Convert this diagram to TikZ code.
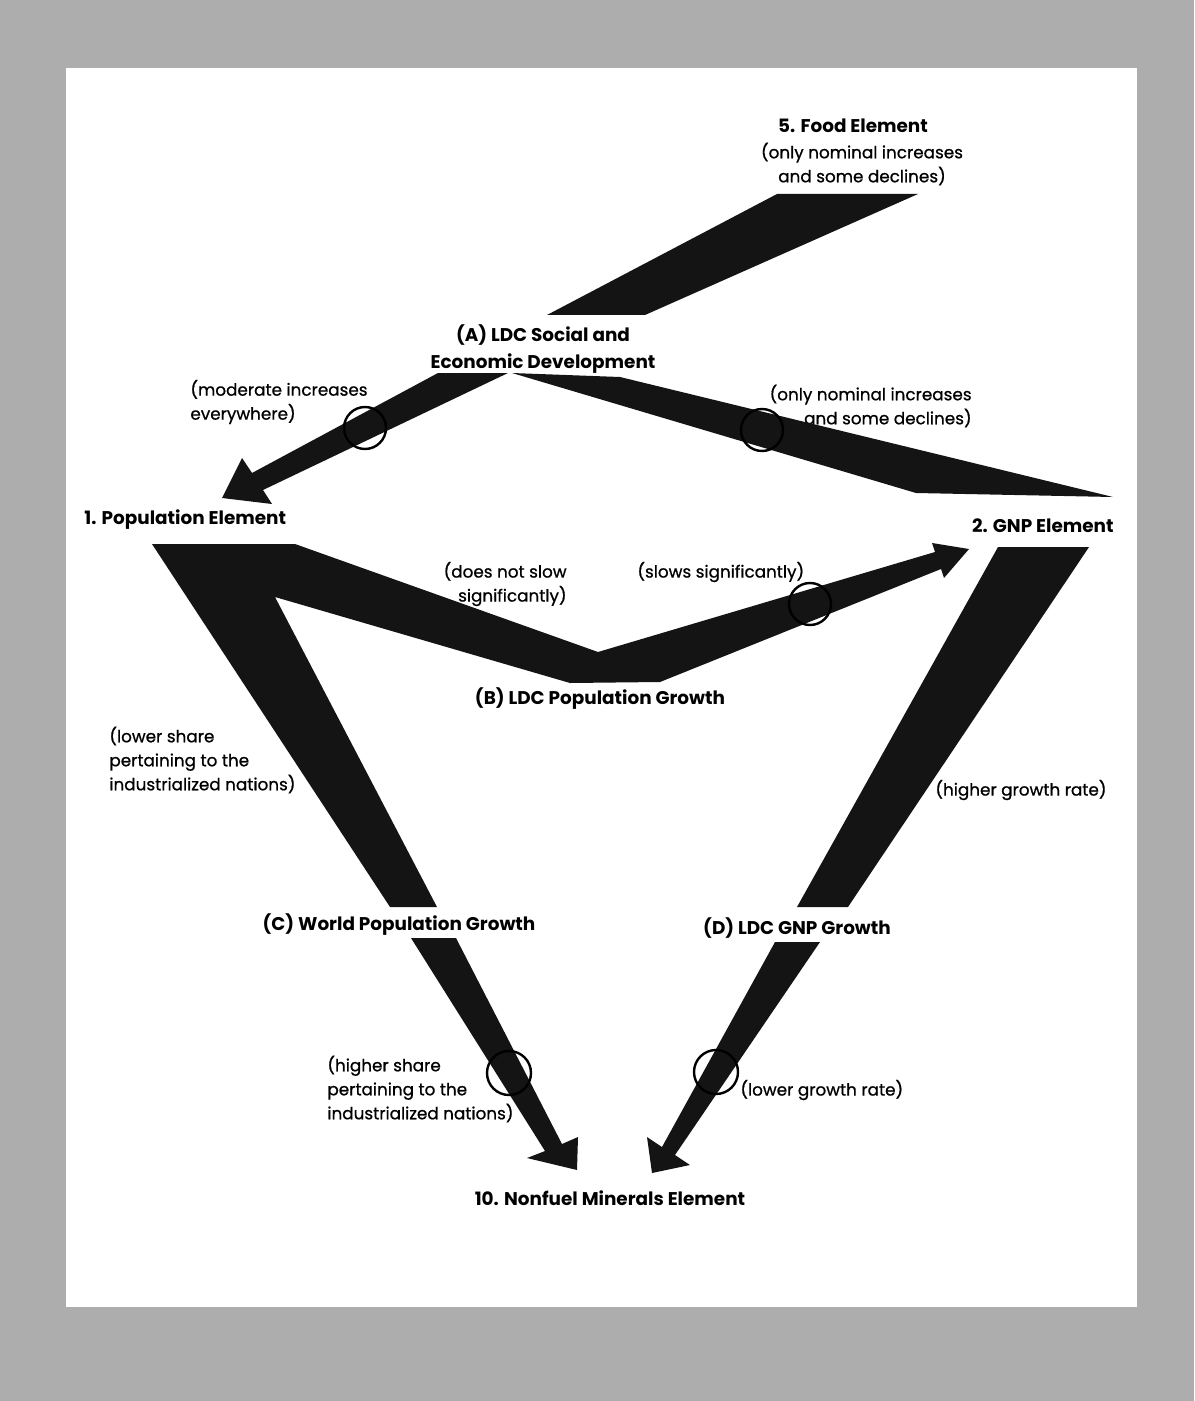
\documentclass[tikz,border=0pt]{standalone}
\usepackage{fontspec}
\setmainfont{Poppins}
\newfontfamily\notefont[FakeBold=0.8]{Poppins}
\begin{document}
\begin{tikzpicture}[x=0.5pt,y=-0.5pt,
  band/.style={fill=black!92,draw=none},
  ring/.style={draw=black,line width=1.2pt,fill=none},
  ttl/.style={font=\bfseries\fontsize{9.2}{13.5}\selectfont,inner sep=0pt,align=center},
  note/.style={font=\notefont\fontsize{8.4}{12}\selectfont,inner sep=0pt,align=left}]
% page and margins
\fill[black!32] (0,0) rectangle (1194,1401);
\fill[white] (66,68) rectangle (1137,1307);
\useasboundingbox (0,0) rectangle (1194,1401);

% labels
\node[ttl] (food) at (853,126) {5. Food Element};
\node[note,align=center] (foodn) at (862,164) {(only nominal increases\\ and some declines)};
\node[ttl] (A) at (543,349) {(A) LDC Social and\\Economic Development};
\node[note,anchor=west] (modn) at (190,402) {(moderate increases\\everywhere)};
\node[note,align=right,anchor=east] (gnpn) at (972,406) {(only nominal increases\\and some declines)};
\node[ttl,anchor=west] (pop) at (84,520) {1. Population Element};
\node[ttl,anchor=east] (gnp) at (1114,526) {2. GNP Element};
\node[note,align=right,anchor=east] (dns) at (567,584) {(does not slow\\significantly)};
\node[note,anchor=west] (slow) at (637,572) {(slows significantly)};
\node[ttl] (B) at (600,699) {(B) LDC Population Growth};
\node[note,anchor=west] (lower) at (109,760) {(lower share\\pertaining to the\\industrialized nations)};
\node[note,anchor=west] (hgr) at (935,790) {(higher growth rate)};
\node[ttl] (C) at (399,925) {(C) World Population Growth};
\node[ttl] (D) at (797,928) {(D) LDC GNP Growth};
\node[note,anchor=west] (higher) at (327,1089) {(higher share\\pertaining to the\\industrialized nations)};
\node[note,anchor=west] (lgr) at (740,1090) {(lower growth rate)};
\node[ttl] (min) at (610,1198) {10. Nonfuel Minerals Element};

% bands
\fill[band] (777,194) -- (918,194) -- (645,315) -- (547,315) -- cycle;
\fill[band] (438,373) -- (508,373) -- (263,490) -- (272,504) -- (222,498) -- (242,458) -- (252,473) -- cycle;
\fill[band] (512,373) -- (620,377) -- (1113,497) -- (916,493) -- cycle;
\fill[band] (152,544) -- (295,544) -- (598,652) -- (935,552) -- (932,543) -- (969,549)
  -- (944,578) -- (941,569) -- (660,682) -- (570,683) -- (275,597) -- (437,907) -- (390,907) -- cycle;
\fill[band] (998,547) -- (1089,547) -- (848,907) -- (797,907) -- cycle;
\fill[band] (411,938) -- (456,938) -- (562,1144) -- (578,1137) -- (577,1170) -- (527,1158) -- (545,1151) -- cycle;
\fill[band] (775,942) -- (820,942) -- (675,1155) -- (690,1165) -- (652,1173) -- (647,1137) -- (662,1147) -- cycle;

% rings
\draw[ring] (365,428) circle[radius=21];
\draw[ring] (762,430) circle[radius=21];
\draw[ring] (810,604) circle[radius=21];
\draw[ring] (509,1073) circle[radius=22];
\draw[ring] (716,1072) circle[radius=22];
\end{tikzpicture}
\end{document}
